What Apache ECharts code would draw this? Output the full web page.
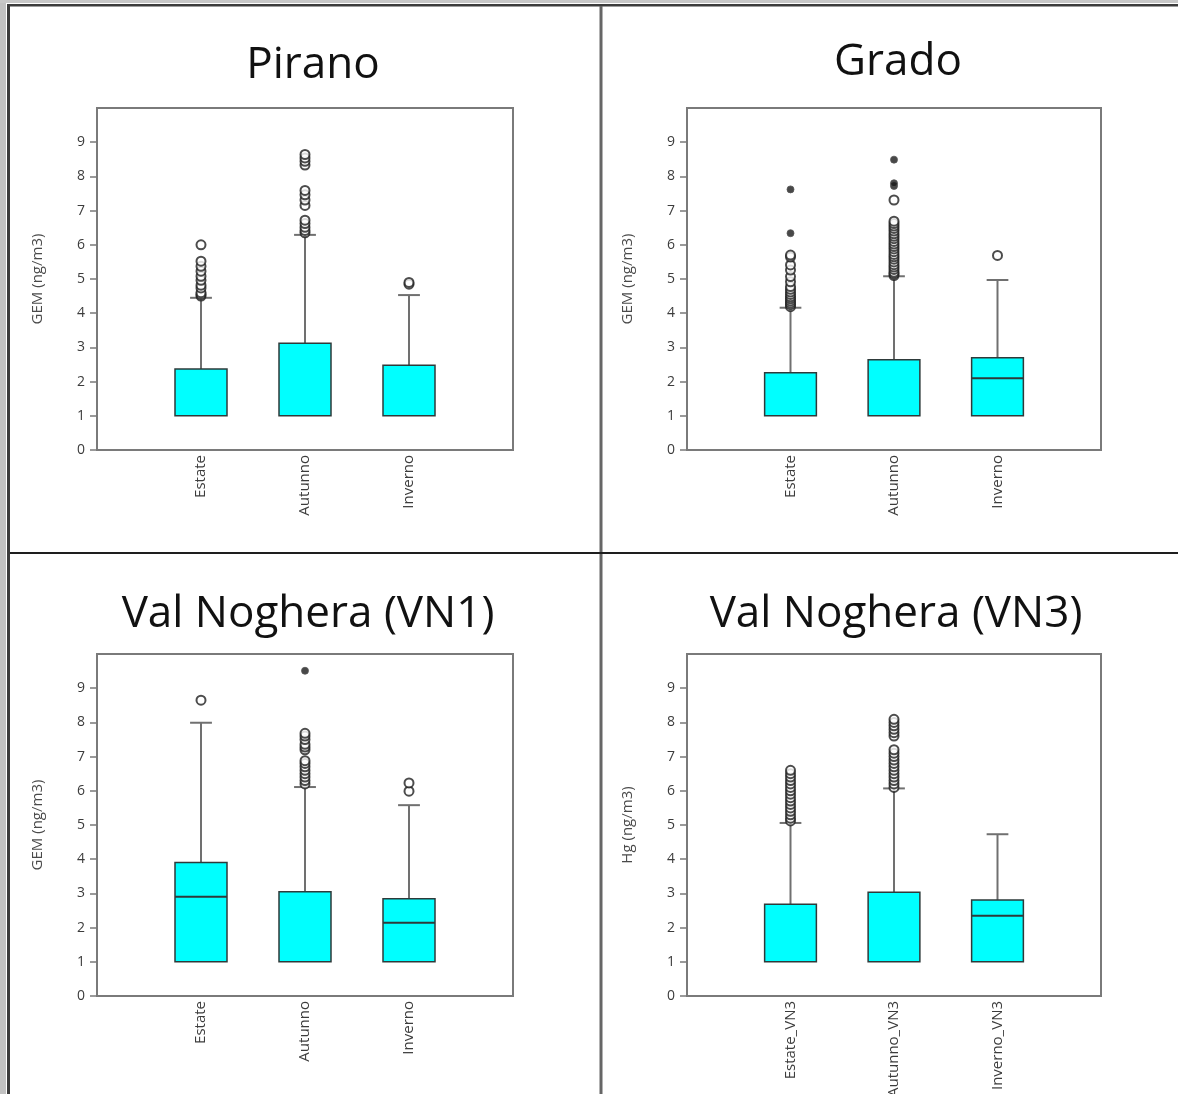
<!DOCTYPE html>
<html>
<head>
<meta charset="utf-8">
<script src="https://cdn.jsdelivr.net/npm/echarts@6/dist/echarts.min.js"></script>
<style>
  html, body { margin: 0; padding: 0; background: #ffffff; }
  #chart { width: 1178px; height: 1094px; }
</style>
</head>
<body>
<div id="chart"></div>
<script>
// Seasons on the x axis of each panel
const seasons = ['Estate', 'Autunno', 'Inverno'];
const seasonsVN3 = ['Estate_VN3', 'Autunno_VN3', 'Inverno_VN3'];

const panelTitles = ['Pirano', 'Grado', 'Val Noghera (VN1)', 'Val Noghera (VN3)'];
const yAxisNames = ['GEM (ng/m3)', 'GEM (ng/m3)', 'GEM (ng/m3)', 'Hg (ng/m3)'];
const yTickLabels = ['0', '1', '2', '3', '4', '5', '6', '7', '8', '9'];

// Box statistics per season: [lower whisker, Q1, median, Q3, upper whisker]
const piranoBoxes = [[1, 1, 1, 2.37, 4.45], [1, 1, 1, 3.12, 6.29], [1, 1, 1, 2.48, 4.53]];
const gradoBoxes  = [[1, 1, 1, 2.26, 4.16], [1, 1, 1, 2.64, 5.08], [1, 1, 2.10, 2.70, 4.97]];
const vn1Boxes    = [[1, 1, 2.90, 3.90, 7.99], [1, 1, 1, 3.05, 6.11], [1, 1, 2.14, 2.84, 5.58]];
const vn3Boxes    = [[1, 1, 1, 2.68, 5.06], [1, 1, 1, 3.03, 6.07], [1, 1, 2.35, 2.81, 4.73]];

// Outliers (open circles) per season
const piranoOutliers = [
  [4.5, 4.55, 4.6, 4.74, 4.82, 4.96, 5.08, 5.23, 5.37, 5.52, 6.0],
  [6.35, 6.42, 6.51, 6.62, 6.72, 7.15, 7.31, 7.46, 7.59, 8.33, 8.44, 8.54, 8.64],
  [4.85, 4.9]
];
const gradoOutliers = [
  [4.19, 4.25, 4.3, 4.36, 4.42, 4.48, 4.55, 4.62, 4.7, 4.78, 4.92, 5.07, 5.26, 5.41, 5.64, 5.70],
  [5.1, 5.15, 5.2, 5.28, 5.35, 5.42, 5.5, 5.58, 5.65, 5.72, 5.8, 5.88, 5.95, 6.02, 6.1, 6.18, 6.25, 6.32, 6.4, 6.48, 6.55, 6.62, 6.69, 7.31],
  [5.69]
];
const vn1Outliers = [
  [8.65],
  [6.2, 6.3, 6.4, 6.5, 6.6, 6.7, 6.8, 6.88, 7.2, 7.28, 7.36, 7.5, 7.6, 7.68],
  [5.99, 6.23]
];
const vn3Outliers = [
  [5.12, 5.2, 5.3, 5.4, 5.5, 5.6, 5.7, 5.8, 5.9, 6.0, 6.1, 6.2, 6.3, 6.4, 6.5, 6.6],
  [6.1, 6.2, 6.3, 6.4, 6.5, 6.6, 6.7, 6.8, 6.9, 7.0, 7.1, 7.2, 7.6, 7.7, 7.8, 7.9, 8.0, 8.09],
  []
];

// Extreme values (asterisks) per season
const piranoExtremes = [[], [], []];
const gradoExtremes  = [[6.34, 7.62], [7.72, 7.8, 8.49], []];
const vn1Extremes    = [[], [9.51], []];
const vn3Extremes    = [[], [], []];

const panels = [
  { cats: seasons,    boxes: piranoBoxes, outliers: piranoOutliers, extremes: piranoExtremes },
  { cats: seasons,    boxes: gradoBoxes,  outliers: gradoOutliers,  extremes: gradoExtremes },
  { cats: seasons,    boxes: vn1Boxes,    outliers: vn1Outliers,    extremes: vn1Extremes },
  { cats: seasonsVN3, boxes: vn3Boxes,    outliers: vn3Outliers,    extremes: vn3Extremes }
];

// Panel layout (plot frames and title anchors)
const gridRects = [
  { left: 97,  top: 108, width: 416, height: 342 },
  { left: 687, top: 108, width: 414, height: 342 },
  { left: 97,  top: 654, width: 416, height: 342 },
  { left: 687, top: 654, width: 414, height: 342 }
];
const titleAnchors = [[308, 38], [893, 35], [303, 587], [891, 587]];

const FONT = '"Open Sans", "Noto Sans", sans-serif';
const CYAN = '#00ffff';
const yTickValues = yTickLabels.map(Number);

function renderBox(params, api) {
  const x = api.value(0);
  const lo = api.value(1), q1 = api.value(2), med = api.value(3), q3 = api.value(4), hi = api.value(5);
  const cx = api.coord([x, 0])[0];
  const step = api.size([1, 0])[0];
  const bw = step * 0.5;
  const cw = step * 0.21;
  const y = v => api.coord([x, v])[1];
  const children = [];
  const whisker = { stroke: '#707070', lineWidth: 2 };
  children.push({ type: 'line', shape: { x1: cx, y1: y(q3), x2: cx, y2: y(hi) }, style: whisker });
  children.push({ type: 'line', shape: { x1: cx - cw / 2, y1: y(hi), x2: cx + cw / 2, y2: y(hi) }, style: whisker });
  if (lo < q1) {
    children.push({ type: 'line', shape: { x1: cx, y1: y(q1), x2: cx, y2: y(lo) }, style: whisker });
    children.push({ type: 'line', shape: { x1: cx - cw / 2, y1: y(lo), x2: cx + cw / 2, y2: y(lo) }, style: whisker });
  }
  children.push({
    type: 'rect',
    shape: { x: cx - bw / 2, y: y(q3), width: bw, height: y(q1) - y(q3) },
    style: { fill: CYAN, stroke: '#2e3a3a', lineWidth: 1.5 }
  });
  if (med > q1) {
    children.push({ type: 'line', shape: { x1: cx - bw / 2, y1: y(med), x2: cx + bw / 2, y2: y(med) }, style: { stroke: '#2e3a3a', lineWidth: 2 } });
  }
  return { type: 'group', children };
}

const option = {
  animation: false,
  backgroundColor: '#ffffff',
  title: panelTitles.map((t, i) => ({
    text: t,
    left: titleAnchors[i][0],
    top: titleAnchors[i][1],
    textAlign: 'center',
    textStyle: { fontFamily: FONT, fontSize: 44, fontWeight: 'normal', color: '#111111', lineHeight: 44 }
  })),
  grid: gridRects.map(r => Object.assign({
    show: true, borderColor: '#7a7a7a', borderWidth: 2, backgroundColor: 'transparent',
    containLabel: false, outerBoundsMode: 'none'
  }, r)),
  xAxis: panels.map((p, i) => ({
    type: 'category',
    gridIndex: i,
    data: [''].concat(p.cats, ['']),
    boundaryGap: false,
    axisLine: { show: false },
    axisTick: { show: false },
    splitLine: { show: false },
    axisLabel: { interval: 0, rotate: 90, margin: 5, fontFamily: FONT, fontSize: 15, color: '#3c3c3c' }
  })),
  yAxis: panels.map((p, i) => ({
    type: 'value',
    gridIndex: i,
    min: 0,
    max: 10,
    interval: 1,
    name: yAxisNames[i],
    nameLocation: 'middle',
    nameRotate: 90,
    nameGap: 52,
    nameTextStyle: { fontFamily: FONT, fontSize: 15, color: '#4a4a4a' },
    axisLine: { show: false },
    axisTick: { show: true, length: 7, customValues: yTickValues, lineStyle: { color: '#7a7a7a', width: 1.5 } },
    splitLine: { show: false },
    axisLabel: {
      margin: 12, fontFamily: FONT, fontSize: 14, color: '#3c3c3c',
      customValues: yTickValues,
      formatter: v => yTickLabels[yTickValues.indexOf(v)] || ''
    }
  })),
  series: []
};

panels.forEach((p, i) => {
  option.series.push({
    type: 'custom',
    xAxisIndex: i,
    yAxisIndex: i,
    renderItem: renderBox,
    encode: { x: 0, y: [1, 2, 3, 4, 5] },
    data: p.boxes.map((b, k) => [k + 1].concat(b)),
    z: 2
  });
  const outPts = [];
  p.outliers.forEach((vals, k) => vals.forEach(v => outPts.push([k + 1, v])));
  option.series.push({
    type: 'scatter',
    xAxisIndex: i,
    yAxisIndex: i,
    symbol: 'circle',
    symbolSize: 9,
    itemStyle: { color: '#ffffff', borderColor: '#1f1f1f', borderWidth: 2 },
    data: outPts,
    z: 3
  });
  const extPts = [];
  p.extremes.forEach((vals, k) => vals.forEach(v => extPts.push([k + 1, v])));
  option.series.push({
    type: 'scatter',
    xAxisIndex: i,
    yAxisIndex: i,
    symbol: 'circle',
    symbolSize: 7,
    itemStyle: { color: '#1a1a1a', borderColor: '#555555', borderWidth: 1 },
    data: extPts,
    z: 4
  });
});

// Page frame and panel dividers
option.graphic = [
  { type: 'rect', shape: { x: 0, y: 0, width: 6, height: 1094 }, style: { fill: '#c2c2c2' }, silent: true },
  { type: 'rect', shape: { x: 0, y: 0, width: 1178, height: 3 }, style: { fill: '#c8c8c8' }, silent: true },
  { type: 'rect', shape: { x: 7, y: 4, width: 3, height: 1090 }, style: { fill: '#3c3c3c' }, silent: true },
  { type: 'rect', shape: { x: 7, y: 4, width: 1171, height: 2.5 }, style: { fill: '#3c3c3c' }, silent: true },
  { type: 'rect', shape: { x: 599.5, y: 6, width: 3, height: 1088 }, style: { fill: '#666666' }, silent: true },
  { type: 'rect', shape: { x: 10, y: 552, width: 1168, height: 2 }, style: { fill: '#1e1e1e' }, silent: true }
];

const chart = echarts.init(document.getElementById('chart'), null, { renderer: 'canvas' });
chart.setOption(option);
</script>
</body>
</html>
